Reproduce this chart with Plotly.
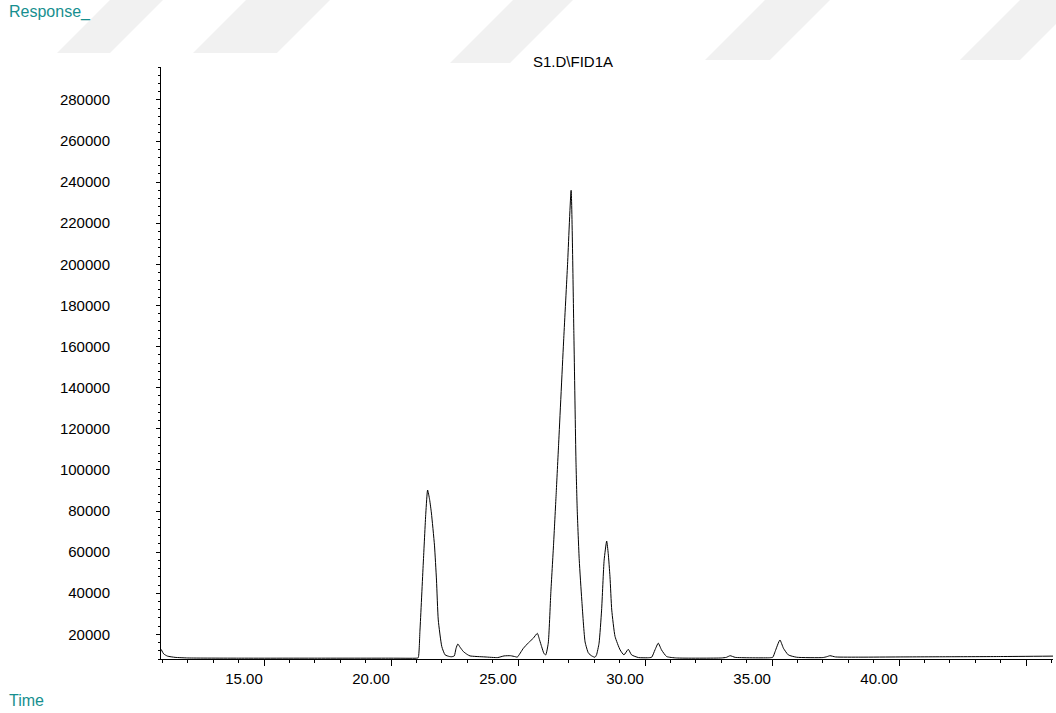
import plotly.graph_objects as go

# FID chromatogram trace: retention time (min) and detector response
time_min = [
    10.95, 11.05, 11.20, 11.50, 12.00, 14.00, 17.00, 20.00, 21.00, 21.07,
    21.14, 21.27, 21.37, 21.44, 21.52, 21.59, 21.71, 21.79, 21.86, 22.00,
    22.13, 22.30, 22.39, 22.49, 22.56, 22.63, 22.72, 22.85, 23.00, 23.11,
    23.70, 24.20, 24.45, 24.70, 24.90, 24.97, 25.21, 25.41, 25.60, 25.76,
    25.85, 25.93, 26.02, 26.09, 26.19, 26.29, 26.40, 26.50, 26.60, 26.80,
    26.95, 27.09, 27.20, 27.28, 27.33, 27.41, 27.51, 27.64, 27.77,
    27.90, 28.03, 28.09, 28.19, 28.29, 28.39, 28.49, 28.55, 28.62, 28.69,
    28.82, 29.02, 29.17, 29.34, 29.47, 29.74, 30.10, 30.26, 30.39, 30.52,
    30.65, 30.85, 31.24, 33.00, 33.20, 33.35, 33.55, 34.90, 35.03, 35.12,
    35.31, 35.45, 35.64, 35.97, 37.00, 37.15, 37.28, 37.50, 38.50, 40.00,
    42.00, 44.00, 46.06,
]
response = [
    12700, 10500, 9400, 8800, 8500, 8400, 8400, 8400, 8400, 8600,
    22100, 54700, 79000, 90200, 85500, 79000, 63400, 46400, 27000, 14000,
    10000, 9200, 9100, 9500, 13200, 15300, 13700, 11600, 10200, 9500,
    9000, 8700, 9500, 9600, 9100, 8900, 13200, 15900, 18100, 20500,
    17200, 14000, 10700, 10000, 15700, 40000, 64000, 88000, 113000, 164000,
    200000, 236000, 165100, 104800, 80500, 56100, 36700, 16300, 10900,
    9500, 8850, 10000, 15700, 31800, 56100, 65400, 59400, 48000, 31800,
    18900, 12400, 10000, 12700, 10000, 8700, 8600, 8850, 12400, 15700,
    12400, 9200, 8500, 8500, 8800, 9600, 8800, 8600, 8850, 11600,
    17250, 13200, 10000, 8850, 8700, 9100, 9600, 9000, 8900, 9000,
    9100, 9200, 9400,
]

x_tick_vals = [15, 20, 25, 30, 35, 40, 45]
x_tick_text = ["15.00", "20.00", "25.00", "30.00", "35.00", "40.00", ""]
y_tick_vals = list(range(20000, 280001, 20000))
y_tick_text = [str(v) for v in y_tick_vals]

FONT = "Liberation Sans, Arial, sans-serif"
TEAL = "#178f8f"

W, H = 1056, 713
L, R, T, B = 161, 3, 67, 54
plot_w = W - L - R
plot_h = H - T - B


def px_to_paper(px, py):
    return (px - L) / plot_w, (H - B - py) / plot_h


fig = go.Figure(
    go.Scatter(
        x=time_min,
        y=response,
        mode="lines",
        line=dict(color="black", width=1, shape="spline", smoothing=0.5),
        hoverinfo="x+y",
    )
)

# faint diagonal background bands along the top edge
bands = [
    [(57, 53), (110, 53), (163, 0), (110, 0)],
    [(193, 53), (277, 53), (330, 0), (246, 0)],
    [(450, 63), (510, 63), (573, 0), (513, 0)],
    [(705, 60), (770, 60), (830, 0), (765, 0)],
    [(960, 60), (1020, 60), (1080, 0), (1020, 0)],
]
for band in bands:
    pts = [px_to_paper(x, y) for x, y in band]
    path = "M " + " L ".join(f"{a:.4f},{b:.4f}" for a, b in pts) + " Z"
    fig.add_shape(
        type="path", path=path, xref="paper", yref="paper",
        fillcolor="#f1f1f1", line=dict(width=0), layer="below",
    )

axis_common = dict(
    showline=True, linecolor="black", linewidth=1,
    showgrid=False, zeroline=False,
    ticks="outside", tickcolor="black", tickwidth=1,
    tickfont=dict(family=FONT, size=15, color="black"),
)

fig.update_layout(
    width=W, height=H, autosize=False,
    margin=dict(l=L, r=R, t=T, b=B),
    paper_bgcolor="white", plot_bgcolor="white",
    showlegend=False,
    xaxis=dict(
        range=[10.945, 46.06],
        tickmode="array", tickvals=x_tick_vals, ticktext=x_tick_text,
        ticklen=6, ticklabelshift=-20,
        minor=dict(tickmode="linear", tick0=0, dtick=1, ticklen=3,
                   ticks="outside", tickcolor="black", tickwidth=1),
        **axis_common,
    ),
    yaxis=dict(
        range=[8000, 296000],
        tickmode="array", tickvals=y_tick_vals, ticktext=y_tick_text,
        ticklen=4, ticklabelstandoff=43,
        minor=dict(tickmode="linear", tick0=0, dtick=4000, ticklen=2,
                   ticks="outside", tickcolor="black", tickwidth=1),
        **axis_common,
    ),
)

tx, ty = px_to_paper(573, 62)
rx, ry = px_to_paper(7, 12)
lx, ly = px_to_paper(7, 700)
fig.add_annotation(x=tx, y=ty, xref="paper", yref="paper", text="S1.D\\FID1A",
                   showarrow=False, xanchor="center", yanchor="middle",
                   font=dict(family=FONT, size=15, color="black"))
fig.add_annotation(x=rx, y=ry, xref="paper", yref="paper", text="Response_",
                   showarrow=False, xanchor="left", yanchor="middle",
                   font=dict(family=FONT, size=16, color=TEAL))
fig.add_annotation(x=lx, y=ly, xref="paper", yref="paper", text="Time",
                   showarrow=False, xanchor="left", yanchor="middle",
                   font=dict(family=FONT, size=16, color=TEAL))

fig.write_html("out.html")
